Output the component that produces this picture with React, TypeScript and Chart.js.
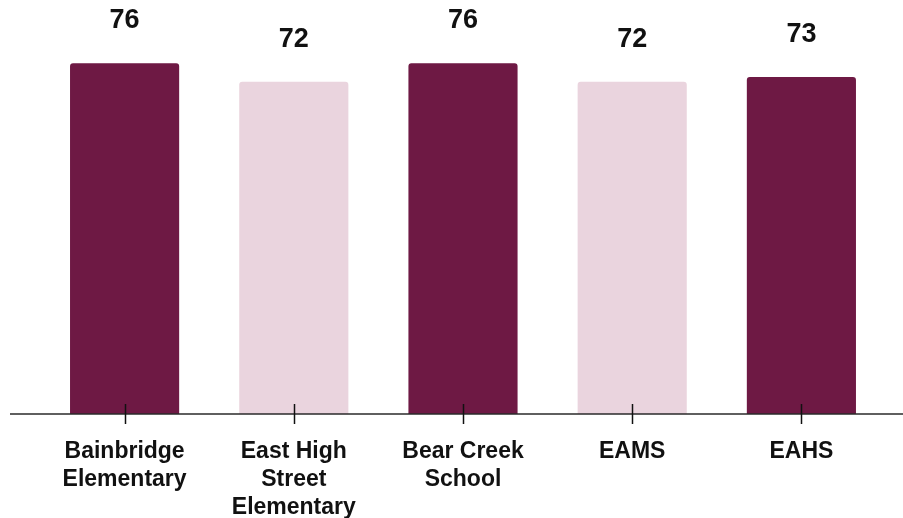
import React, { useEffect, useRef } from "react";
import { Chart, registerables } from "chart.js";

Chart.register(...registerables);

const categories: (string | string[])[] = [
  ["Bainbridge", "Elementary"],
  ["East High", "Street", "Elementary"],
  ["Bear Creek", "School"],
  "EAMS",
  "EAHS",
];
const values = [76, 72, 76, 72, 73];
const barColors = ["#6e1944", "#ead4de", "#6e1944", "#ead4de", "#6e1944"];

const FONT = "'Liberation Sans', Arial, sans-serif";

const overlayPlugin = {
  id: "overlay",
  afterDatasetsDraw(chart: any) {
    const ctx = chart.ctx;
    const xScale = chart.scales.x;
    const yScale = chart.scales.y;
    const y0 = yScale.getPixelForValue(0);
    ctx.save();
    // axis line
    ctx.strokeStyle = "#2a2a2a";
    ctx.lineWidth = 1.5;
    ctx.beginPath();
    ctx.moveTo(10, y0);
    ctx.lineTo(chart.width, y0);
    ctx.stroke();
    // ticks
    ctx.strokeStyle = "#111111";
    ctx.lineWidth = 1.5;
    for (let i = 0; i < categories.length; i++) {
      const x = Math.round(xScale.getPixelForValue(i)) + 0.5;
      ctx.beginPath();
      ctx.moveTo(x, y0 - 10);
      ctx.lineTo(x, y0 + 10);
      ctx.stroke();
    }
    // value labels
    const meta = chart.getDatasetMeta(0);
    ctx.fillStyle = "#111111";
    ctx.font = `bold 27px ${FONT}`;
    ctx.textAlign = "center";
    ctx.textBaseline = "alphabetic";
    meta.data.forEach((bar: any, i: number) => {
      ctx.fillText(String(values[i]), bar.x, bar.y - 35);
    });
    ctx.restore();
  },
};

export default function App() {
  const ref = useRef<HTMLCanvasElement>(null);
  useEffect(() => {
    if (!ref.current) return;
    const chart = new Chart(ref.current, {
      type: "bar",
      data: {
        labels: categories,
        datasets: [
          {
            data: values,
            backgroundColor: barColors,
            borderRadius: { topLeft: 3, topRight: 3, bottomLeft: 0, bottomRight: 0 },
            borderSkipped: false,
            barPercentage: 0.645,
            categoryPercentage: 1,
          },
        ],
      },
      options: {
        animation: false,
        responsive: false,
        maintainAspectRatio: false,
        layout: { padding: { left: 40, right: 17, top: 0, bottom: 0 } },
        plugins: {
          legend: { display: false },
          tooltip: { enabled: false },
        },
        scales: {
          x: {
            grid: { display: false },
            border: { display: false },
            ticks: {
              color: "#111111",
              font: { family: FONT, size: 23, weight: "bold", lineHeight: 1.22 },
              padding: 16,
              maxRotation: 0,
              minRotation: 0,
              autoSkip: false,
            },
            afterFit: (scale: any) => {
              scale.height = 104;
            },
          },
          y: {
            display: false,
            min: 0,
            max: 89.7,
          },
        },
      },
      plugins: [overlayPlugin],
    });
    return () => chart.destroy();
  }, []);
  return (
    <div style={{ position: "fixed", left: 0, top: 0, width: 903, height: 518, background: "#fff" }}>
      <canvas ref={ref} width={903} height={518} style={{ display: "block" }} />
    </div>
  );
}
